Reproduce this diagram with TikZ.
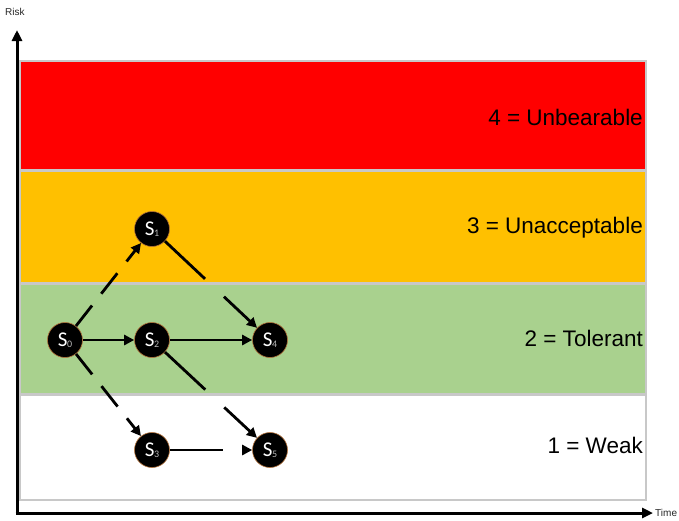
\documentclass[tikz,border=0pt]{standalone}
\usepackage{fontspec}
\setmainfont{Liberation Sans}
\newfontfamily\calib{Carlito}
\usetikzlibrary{arrows.meta}
\definecolor{bandred}{HTML}{FF0000}
\definecolor{bandorange}{HTML}{FFC000}
\definecolor{bandgreen}{HTML}{A9D18E}
\definecolor{bordergray}{HTML}{C8C8C8}
\definecolor{ringcol}{HTML}{B5723A}
\begin{document}
\begin{tikzpicture}[x=1pt,y=-1pt,
  band/.style={draw=bordergray,line width=2pt},
  level/.style={anchor=east,font=\fontsize{22.5}{24}\selectfont,text=black,inner sep=0pt},
  state/.style={circle,fill=black,draw=ringcol,line width=0.6pt,minimum size=35pt,inner sep=0pt,text=white,font=\calib\fontsize{21}{22}\selectfont},
  sub/.style={},
  arr/.style={line width=2.8pt,-{Triangle[length=10pt,width=10pt]}},
  shortdash/.style={dash pattern=on 26pt off 15pt},
  longdash/.style={dash pattern=on 55pt off 26pt},
  axis/.style={line width=3pt,-{Triangle[length=11pt,width=10pt]}},
  axlabel/.style={font=\fontsize{10}{12}\selectfont,text=black!85,inner sep=0pt}]
\useasboundingbox (0,0) rectangle (679,520);
% bands
\fill[white] (20,395) rectangle (646,500);
\draw[band] (20,395) rectangle (646,500);
\draw[band,fill=bandgreen] (20,284) rectangle (646,394);
\draw[band,fill=bandorange] (20,171) rectangle (646,283);
\draw[band,fill=bandred] (20,61) rectangle (646,170);
% axes
\coordinate (ytop) at (17,30);
\coordinate (xend) at (653,513);
\draw[axis] (17,514.5) -- (ytop);
\draw[axis] (15.5,513) -- (xend);
\node[axlabel,anchor=west] (risk) at (5,12) {Risk};
\node[axlabel,anchor=west] (time) at (655,513) {Time};
% level labels
\node[level] (l4) at (643,117) {4 = Unbearable};
\node[level] (l3) at (643,228) {3 = Unacceptable};
\node[level] (l2) at (643,338) {2 = Tolerant};
\node[level] (l1) at (643,445) {1 = Weak};
% states
\newcommand\stlabel[1]{S\kern-0.5pt{\fontsize{10}{10}\selectfont\raisebox{-1pt}{\textcolor{gray!55}{#1}}}}
\node[state] (s0) at (65,340) {\stlabel{0}};
\node[state] (s1) at (152,229) {\stlabel{1}};
\node[state] (s2) at (152,340) {\stlabel{2}};
\node[state] (s4) at (270,340) {\stlabel{4}};
\node[state] (s3) at (152,450) {\stlabel{3}};
\node[state] (s5) at (270,450) {\stlabel{5}};
% edges
\draw[arr] (s0) -- (s2);
\draw[arr] (s2) -- (s4);
\draw[arr,shortdash] (s0) -- (s1);
\draw[arr,shortdash] (s0) -- (s3);
\draw[arr,longdash] (s1) -- (s4);
\draw[arr,longdash] (s2) -- (s5);
\draw[arr,dash pattern=on 53pt off 24pt] (s3) -- (s5);
\end{tikzpicture}
\end{document}
